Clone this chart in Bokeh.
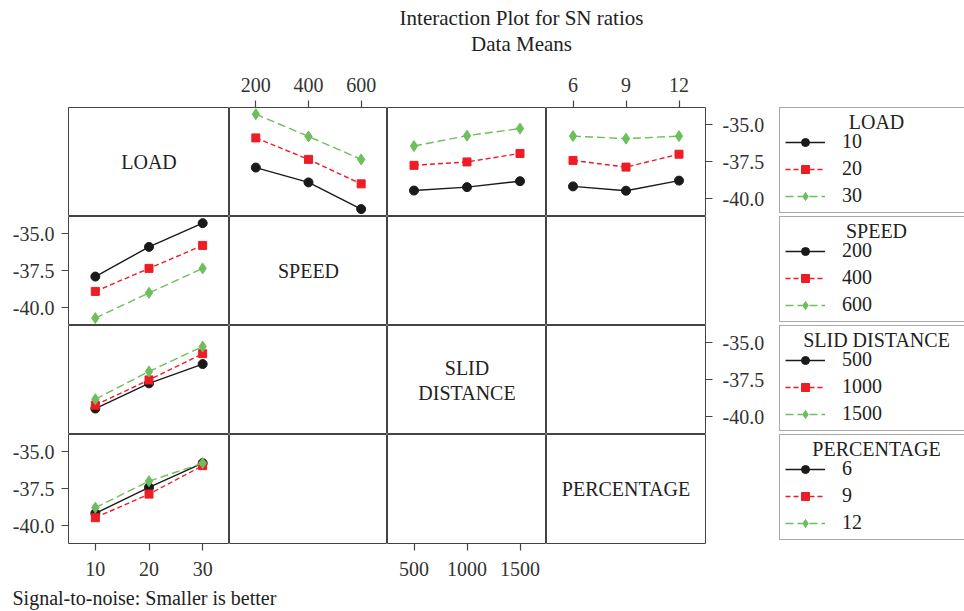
from bokeh.plotting import figure
from bokeh.layouts import column, row
from bokeh.models import (FixedTicker, PrintfTickFormatter, LinearAxis, Range1d,
                          Label, Legend, LegendItem)
from bokeh.embed import file_html
from bokeh.resources import INLINE

FONT = "Liberation Serif"

# ---------------- data ----------------
LOAD_LEVELS = [10, 20, 30]
SPEED_LEVELS = [200, 400, 600]
SLID_LEVELS = [500, 1000, 1500]
PCT_LEVELS = [6, 9, 12]

# SN ratio means; row i = LOAD level i, column j = level j of the other factor
SN_LOAD_SPEED = [[-37.9, -38.9, -40.7],
                 [-35.9, -37.35, -39.0],
                 [-34.3, -35.8, -37.35]]
SN_LOAD_SLID = [[-39.45, -39.22, -38.82],
                [-37.75, -37.52, -36.95],
                [-36.45, -35.75, -35.27]]
SN_LOAD_PCT = [[-39.17, -39.46, -38.78],
               [-37.42, -37.87, -37.0],
               [-35.78, -35.95, -35.78]]

FACTOR_NAMES = ["LOAD", "SPEED", "SLID DISTANCE", "PERCENTAGE"]
FACTOR_LEVELS = [LOAD_LEVELS, SPEED_LEVELS, SLID_LEVELS, PCT_LEVELS]
SN_BY_FACTOR = {1: SN_LOAD_SPEED, 2: SN_LOAD_SLID, 3: SN_LOAD_PCT}
Y_TICKS = [-40.0, -37.5, -35.0]

TITLE_1 = "Interaction Plot for SN ratios"
TITLE_2 = "Data Means"
FOOTNOTE = "Signal-to-noise: Smaller is better"

# ---------------- style ----------------
COLORS = ["#1a1a1a", "#ee1d25", "#6cbf5b"]
DASHES = ["solid", "5 3", "8 4"]
MARKERS = ["circle", "square", "diamond"]
MSIZES = [9, 8, 11]
FRAME_W = [161, 158, 159, 159]
FRAME_H = 109
LEFT_B, RIGHT_B, TOP_B, BOTTOM_B = 68, 74, 47, 40
LEG_W = 185
Y_RANGE = (-41.2, -33.85)
LINE_C = "#444444"
NAN = float("nan")


def x_range_for(levels):
    lo, hi = min(levels), max(levels)
    pad = (hi - lo) * 0.25
    return (lo - pad, hi + pad)


def style_axis(ax, standoff):
    ax.major_tick_out = 7
    ax.major_tick_in = 0
    ax.minor_tick_out = 0
    ax.minor_tick_in = 0
    ax.major_tick_line_color = LINE_C
    ax.major_tick_line_width = 1.2
    ax.axis_line_color = None
    ax.major_label_text_font = FONT
    ax.major_label_text_font_size = "20px"
    ax.major_label_text_color = "#333333"
    ax.major_label_standoff = standoff


STANDOFF = {"above": 9, "below": 11, "left": 7, "right": 10}


def add_axis(p, place, ticks, fmt):
    ax = LinearAxis(ticker=FixedTicker(ticks=ticks), formatter=PrintfTickFormatter(format=fmt))
    style_axis(ax, STANDOFF[place])
    p.add_layout(ax, place)


def draw_series(p, xs, ys, k):
    p.line(xs, ys, line_color=COLORS[k], line_width=1.4, line_dash=DASHES[k])
    p.scatter(xs, ys, marker=MARKERS[k], size=MSIZES[k], fill_color=COLORS[k],
              line_color=COLORS[k])


rows = []

# title
tf = figure(width=964, height=60, output_backend="svg", toolbar_location=None,
            x_axis_location=None, y_axis_location=None, tools="",
            min_border=0, outline_line_color=None)
tf.grid.visible = False
tf.add_layout(Label(x=521, y=43, x_units="screen", y_units="screen", text=TITLE_1,
                    text_align="center", text_baseline="middle", text_font=FONT,
                    text_font_size="21px", text_color="#222222"))
tf.add_layout(Label(x=521, y=17, x_units="screen", y_units="screen", text=TITLE_2,
                    text_align="center", text_baseline="middle", text_font=FONT,
                    text_font_size="21px", text_color="#222222"))
rows.append(tf)

for r in range(4):
    figs = []
    top = TOP_B if r == 0 else 0
    bottom = BOTTOM_B if r == 3 else 0
    for c in range(4):
        left = LEFT_B if c == 0 else 0
        right = RIGHT_B if c == 3 else 0
        xr = x_range_for(FACTOR_LEVELS[c])
        p = figure(width=FRAME_W[c] + left + right, height=FRAME_H + top + bottom,
                   x_range=Range1d(*xr), y_range=Range1d(*Y_RANGE),
                   output_backend="svg", toolbar_location=None, tools="",
                   x_axis_location=None, y_axis_location=None,
                   min_border_left=left, min_border_right=right,
                   min_border_top=top, min_border_bottom=bottom,
                   outline_line_color=LINE_C, outline_line_width=1.0)
        p.grid.visible = False

        if r == c:
            name = FACTOR_NAMES[r]
            parts = name.split(" ") if r == 2 else [name]
            n = len(parts)
            for i, part in enumerate(parts):
                p.add_layout(Label(x=(xr[0] + xr[1]) / 2, y=(Y_RANGE[0] + Y_RANGE[1]) / 2,
                                   y_offset=(n - 1) * 12.5 - i * 25, text=part,
                                   text_align="center", text_baseline="middle",
                                   text_font=FONT, text_font_size="20px",
                                   text_color="#222222"))
        elif r == 0:
            sn = SN_BY_FACTOR[c]
            for k in range(3):
                draw_series(p, FACTOR_LEVELS[c], sn[k], k)
        elif c == 0:
            sn = SN_BY_FACTOR[r]
            for k in range(3):
                draw_series(p, LOAD_LEVELS, [sn[i][k] for i in range(3)], k)

        if r == 0 and c in (1, 3):
            add_axis(p, "above", FACTOR_LEVELS[c], "%d")
        if r == 3 and c in (0, 2):
            add_axis(p, "below", FACTOR_LEVELS[c], "%d")
        if c == 0 and r in (1, 3):
            add_axis(p, "left", Y_TICKS, "%.1f")
        if c == 3 and r in (0, 2):
            add_axis(p, "right", Y_TICKS, "%.1f")
        figs.append(p)

    # legend panel (glyph renderers hold a single NaN point: nothing drawn, legend glyphs shown)
    lf = figure(width=LEG_W, height=FRAME_H + top + bottom, output_backend="svg",
                toolbar_location=None, tools="", x_axis_location=None, y_axis_location=None,
                x_range=Range1d(0, 1), y_range=Range1d(0, 1),
                min_border_left=0, min_border_right=0, min_border_top=top,
                min_border_bottom=bottom, outline_line_color=None)
    lf.grid.visible = False
    lf.add_layout(Label(x=97, y=FRAME_H - 14, x_units="screen", y_units="screen",
                        text=FACTOR_NAMES[r], text_align="center", text_baseline="middle",
                        text_font=FONT, text_font_size="20px", text_color="#222222"))
    items = []
    for k, lev in enumerate(FACTOR_LEVELS[r]):
        ln = lf.line(x=[NAN], y=[NAN], line_color=COLORS[k], line_width=1.4,
                     line_dash=DASHES[k])
        sc = lf.scatter(x=[NAN], y=[NAN], marker=MARKERS[k], fill_color=COLORS[k],
                        line_color=COLORS[k])
        items.append(LegendItem(label=str(lev), renderers=[ln, sc]))
    leg = Legend(items=items, location="top_left", margin=0, padding=5, spacing=4,
                 glyph_width=40, glyph_height=20, label_height=20, label_standoff=17,
                 label_width=127,
                 title=" ", title_text_font_size="15px", title_standoff=0,
                 border_line_color="#555555", border_line_width=1.6,
                 background_fill_alpha=0.0,
                 label_text_font=FONT, label_text_font_size="20px",
                 label_text_color="#222222")
    lf.add_layout(leg)
    figs.append(lf)
    rows.append(row(*figs, spacing=0))

ff = figure(width=964, height=28, output_backend="svg", toolbar_location=None,
            x_axis_location=None, y_axis_location=None, tools="",
            min_border=0, outline_line_color=None)
ff.grid.visible = False
ff.add_layout(Label(x=12, y=14, x_units="screen", y_units="screen", text=FOOTNOTE,
                    text_align="left", text_baseline="middle", text_font=FONT,
                    text_font_size="20px", text_color="#222222"))
rows.append(ff)

layout = column(*rows, spacing=0)
open("out.html", "w").write(file_html(layout, INLINE))
